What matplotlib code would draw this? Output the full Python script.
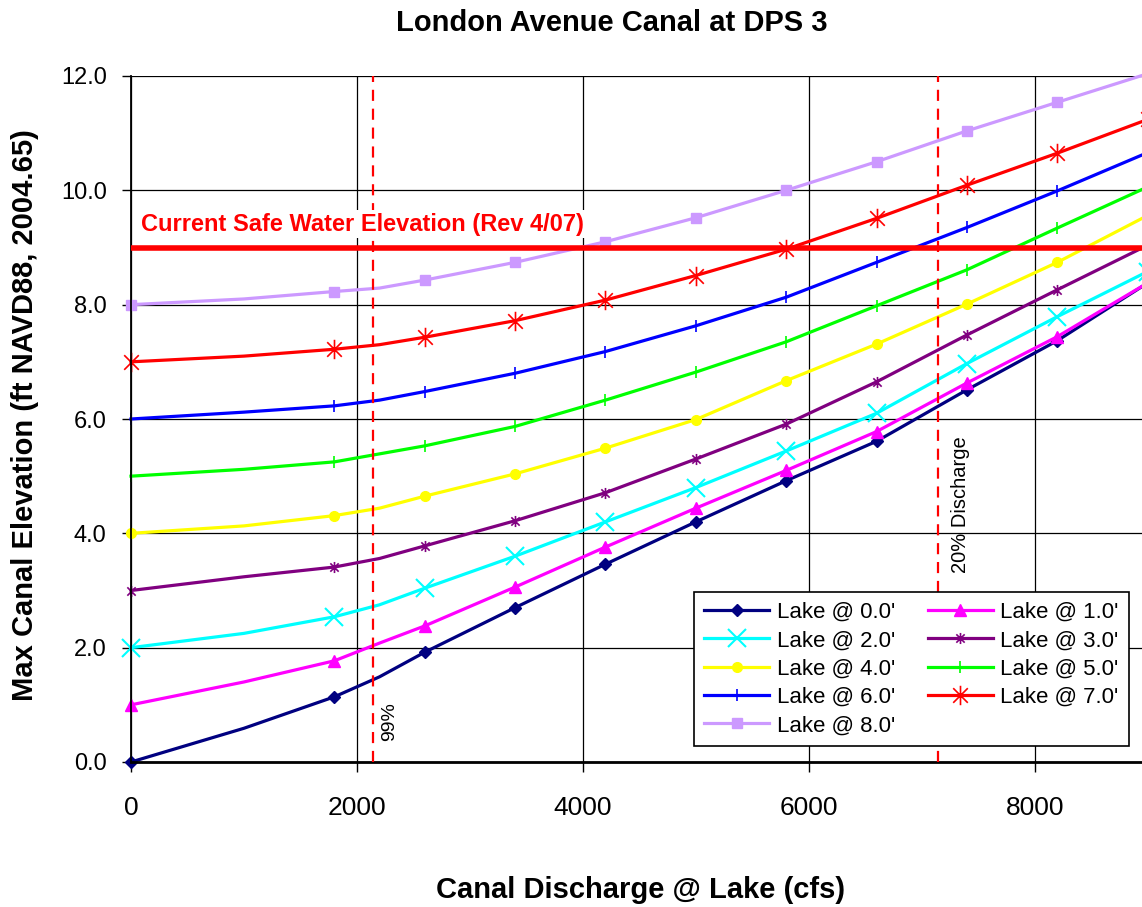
import numpy as np
import matplotlib
matplotlib.use('Agg')
import matplotlib.pyplot as plt
from matplotlib.path import Path

plt.rcParams['font.family'] = ['Liberation Sans', 'DejaVu Sans']

# discharge (cfs); markers only at the every-800 points
discharge = [0, 1000, 1800, 2200, 2600, 3400, 4200, 5000, 5800, 6600, 7400, 8200, 9000]
marked = [0, 2, 4, 5, 6, 7, 8, 9, 10, 11, 12]

lake_0 = [0.00, 0.59, 1.14, 1.49, 1.92, 2.70, 3.46, 4.20, 4.92, 5.61, 6.51, 7.37, 8.38]
lake_1 = [1.00, 1.40, 1.77, 2.08, 2.38, 3.06, 3.76, 4.44, 5.10, 5.78, 6.63, 7.44, 8.38]
lake_2 = [2.00, 2.25, 2.54, 2.75, 3.04, 3.60, 4.20, 4.80, 5.44, 6.10, 6.97, 7.79, 8.58]
lake_3 = [3.00, 3.24, 3.41, 3.56, 3.78, 4.22, 4.71, 5.30, 5.91, 6.65, 7.47, 8.26, 9.04]
lake_4 = [4.00, 4.13, 4.31, 4.44, 4.65, 5.04, 5.49, 5.99, 6.67, 7.31, 8.01, 8.74, 9.56]
lake_5 = [5.00, 5.12, 5.25, 5.39, 5.53, 5.87, 6.33, 6.82, 7.35, 7.98, 8.61, 9.34, 10.06]
lake_6 = [6.00, 6.12, 6.23, 6.33, 6.48, 6.80, 7.18, 7.63, 8.13, 8.74, 9.35, 9.99, 10.66]
lake_7 = [7.00, 7.10, 7.22, 7.30, 7.43, 7.72, 8.08, 8.51, 8.97, 9.51, 10.09, 10.65, 11.24]
lake_8 = [8.00, 8.10, 8.23, 8.29, 8.43, 8.74, 9.10, 9.52, 10.00, 10.50, 11.04, 11.54, 12.04]

labels = ["Lake @ 0.0'", "Lake @ 1.0'", "Lake @ 2.0'", "Lake @ 3.0'", "Lake @ 4.0'",
          "Lake @ 5.0'", "Lake @ 6.0'", "Lake @ 7.0'", "Lake @ 8.0'"]
series = [lake_0, lake_1, lake_2, lake_3, lake_4, lake_5, lake_6, lake_7, lake_8]

safe_elev = 9.0
line_99 = 2140
line_20 = 7140

# excel style asterisk: vertical bar + x
star = Path([(0, -1), (0, 1), (-0.75, -0.75), (0.75, 0.75), (-0.75, 0.75), (0.75, -0.75)],
            [Path.MOVETO, Path.LINETO, Path.MOVETO, Path.LINETO, Path.MOVETO, Path.LINETO])

styles = [
    dict(color='#000080', marker='D', ms=6),
    dict(color='#FF00FF', marker='^', ms=8),
    dict(color='#00FFFF', marker='x', ms=13, mew=1.5),
    dict(color='#800080', marker=star, ms=8, mew=1.2),
    dict(color='#FFFF00', marker='o', ms=7),
    dict(color='#00FF00', marker='|', ms=9, mew=1.2),
    dict(color='#0000FF', marker='|', ms=9, mew=1.2),
    dict(color='#FF0000', marker=star, ms=14, mew=1.2),
    dict(color='#CC99FF', marker='s', ms=7),
]

fig = plt.figure(figsize=(11.42, 9.07), dpi=100)
ax = fig.add_axes([131/1142, 1-762/907, 1-131/1142, (762-76)/907])

handles = []
for y, lab, st in zip(series, labels, styles):
    h, = ax.plot(discharge, y, lw=2.3, markevery=marked, label=lab, clip_on=False, **st)
    handles.append(h)

ax.axhline(safe_elev, color='#FF0000', lw=4, zorder=5)
ax.axvline(line_99, color='#FF0000', lw=1.6, ls=(0, (5, 3.5)), zorder=6)
ax.axvline(line_20, color='#FF0000', lw=1.6, ls=(0, (5, 3.5)), zorder=6)

ax.text(90, 9.41, 'Current Safe Water Elevation (Rev 4/07)', color='#FF0000',
        fontsize=17, fontweight='bold', va='center', ha='left', zorder=7,
        bbox=dict(facecolor='white', edgecolor='none', pad=2))
ax.text(2292, 0.70, '99%', rotation=90, fontsize=14, ha='center', va='center', zorder=7)
ax.text(7345, 4.50, '20% Discharge', rotation=90, fontsize=14.5, ha='center', va='center', zorder=7)

ax.set_xlim(0, 8950)
ax.set_ylim(0, 12)
ax.set_xticks([0, 2000, 4000, 6000, 8000])
ax.set_yticks(np.arange(0, 12.1, 2))
ax.set_yticklabels(['%.1f' % v for v in np.arange(0, 12.1, 2)])
ax.tick_params(axis='x', labelsize=19, length=7.2, width=1, direction='out', pad=17)
ax.tick_params(axis='y', labelsize=17, length=6.5, width=1, direction='out', pad=11)
ax.grid(True, color='black', lw=0.9)
ax.set_axisbelow(True)
for s in ['top', 'right']:
    ax.spines[s].set_visible(False)
ax.spines['left'].set_linewidth(1.3)
ax.spines['bottom'].set_linewidth(2)

order = [0, 2, 4, 6, 8, 1, 3, 5, 7]
leg = ax.legend([handles[i] for i in order], [labels[i] for i in order], ncol=2,
                loc='lower right', bbox_to_anchor=(0.987, 0.023), fontsize=16,
                frameon=True, fancybox=False, edgecolor='black', framealpha=1,
                handlelength=2.9, handletextpad=0.35, columnspacing=1.5,
                labelspacing=0.33, borderpad=0.45, borderaxespad=0)
leg.get_frame().set_linewidth(1.2)
leg.set_zorder(10)

fig.text(612/1142, 1-31/907, 'London Avenue Canal at DPS 3', fontsize=21,
         fontweight='bold', ha='center', va='baseline')
fig.text(641/1142, 1-898/907, 'Canal Discharge @ Lake (cfs)', fontsize=21,
         fontweight='bold', ha='center', va='baseline')
fig.text(25/1142, 1-415/907, 'Max Canal Elevation (ft NAVD88, 2004.65)', fontsize=21,
         fontweight='bold', ha='center', va='center', rotation=90)

fig.savefig('out.png', dpi=100)
